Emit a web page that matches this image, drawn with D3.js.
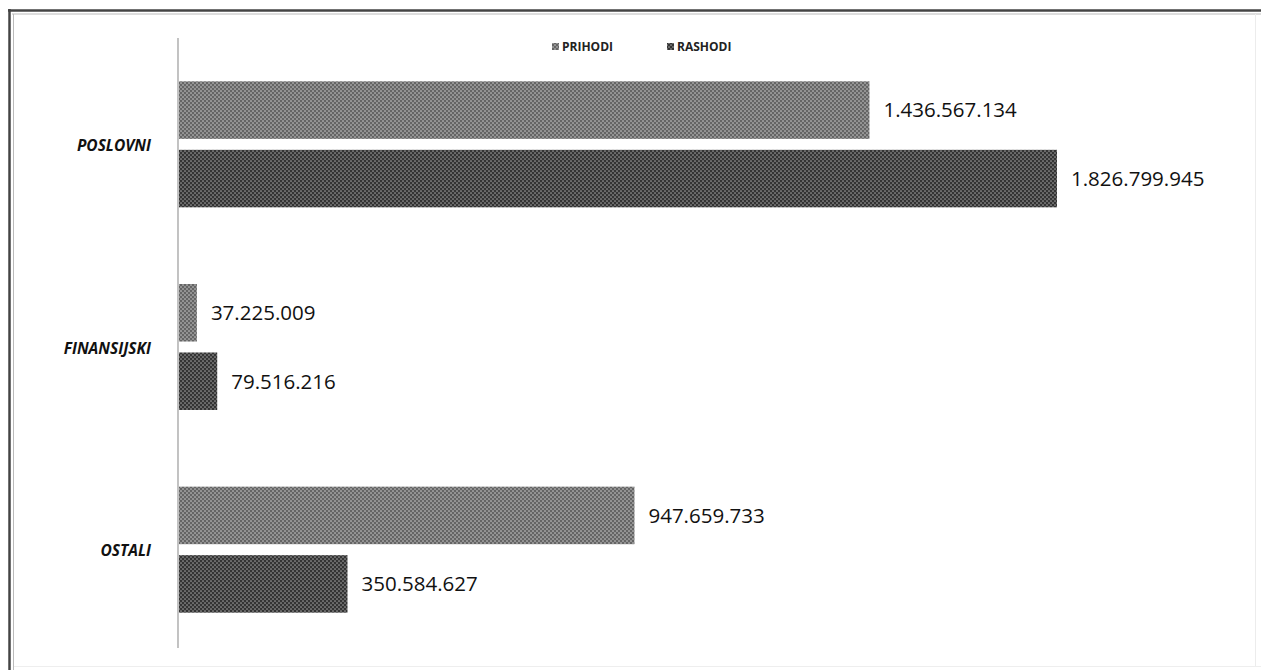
<!DOCTYPE html>
<html>
<head>
<meta charset="utf-8">
<script src="https://cdn.jsdelivr.net/npm/d3@7"></script>
<style>
  html, body { margin: 0; padding: 0; background: #fff; }
  svg { display: block; }
</style>
</head>
<body>
<svg id="chart" width="1261" height="670"></svg>
<script>
const categories = ["POSLOVNI", "FINANSIJSKI", "OSTALI"];
const seriesNames = ["PRIHODI", "RASHODI"];
const prihodi = [1436567134, 37225009, 947659733];
const rashodi = [1826799945, 79516216, 350584627];
const valueLabels = {
  PRIHODI: ["1.436.567.134", "37.225.009", "947.659.733"],
  RASHODI: ["1.826.799.945", "79.516.216", "350.584.627"]
};

const seriesValues = { PRIHODI: prihodi, RASHODI: rashodi };
const colors = { PRIHODI: "#858585", RASHODI: "#505050" };
const dotColors = { PRIHODI: "#555", RASHODI: "#262626" };

const svg = d3.select("#chart");
const W = 1261, H = 670;

// patterns (halftone look)
const defs = svg.append("defs");
seriesNames.forEach(s => {
  const p = defs.append("pattern")
    .attr("id", "pat-" + s)
    .attr("width", 4).attr("height", 4)
    .attr("patternUnits", "userSpaceOnUse");
  p.append("rect").attr("width", 4).attr("height", 4).attr("fill", colors[s]);
  p.append("circle").attr("cx", 1).attr("cy", 1).attr("r", 0.9).attr("fill", dotColors[s]);
  p.append("circle").attr("cx", 3).attr("cy", 3).attr("r", 0.9).attr("fill", dotColors[s]);
  p.append("circle").attr("cx", 3).attr("cy", 1).attr("r", 0.5).attr("fill", "#d0d0d0");
  p.append("circle").attr("cx", 1).attr("cy", 3).attr("r", 0.5).attr("fill", "#d0d0d0");
});

// frame
svg.append("line").attr("x1", 8).attr("x2", W).attr("y1", 10.5).attr("y2", 10.5)
  .attr("stroke", "#444").attr("stroke-width", 2.5);
svg.append("line").attr("x1", 12).attr("x2", W).attr("y1", 14).attr("y2", 14)
  .attr("stroke", "#bbb").attr("stroke-width", 1);
svg.append("line").attr("x1", 9.5).attr("x2", 9.5).attr("y1", 9).attr("y2", H)
  .attr("stroke", "#444").attr("stroke-width", 2.5);
svg.append("line").attr("x1", 13.5).attr("x2", 13.5).attr("y1", 14).attr("y2", H)
  .attr("stroke", "#bbb").attr("stroke-width", 1);
svg.append("line").attr("x1", 14).attr("x2", W).attr("y1", 666.5).attr("y2", 666.5)
  .attr("stroke", "#eee").attr("stroke-width", 1);
svg.append("line").attr("x1", 1255.5).attr("x2", 1255.5).attr("y1", 14).attr("y2", 666)
  .attr("stroke", "#ececec").attr("stroke-width", 1);

// scales
const x0 = 179;
const x = d3.scaleLinear().domain([0, 1826799945]).range([x0, 1057]);
const y = d3.scaleBand().domain(categories).range([43, 651]).paddingInner(0).paddingOuter(0);
const groupH = 126;
const ys = d3.scaleBand().domain(seriesNames).range([0, groupH]).paddingInner(0.16);
const groupOffset = (y.bandwidth() - groupH) / 2;

// axis line
svg.append("line").attr("x1", x0 - 1).attr("x2", x0 - 1).attr("y1", 38).attr("y2", 648)
  .attr("stroke", "#9a9a9a").attr("stroke-width", 1.2);

// bars
const g = svg.append("g");
categories.forEach((c, i) => {
  const gy = y(c) + groupOffset;
  seriesNames.forEach(s => {
    const v = seriesValues[s][i];
    g.append("rect")
      .attr("x", x(0))
      .attr("y", gy + ys(s))
      .attr("width", x(v) - x(0))
      .attr("height", ys.bandwidth())
      .attr("fill", "url(#pat-" + s + ")");
    g.append("text")
      .attr("x", x(v) + 14)
      .attr("y", gy + ys(s) + ys.bandwidth() / 2)
      .attr("dy", "0.36em")
      .attr("font-family", "'Open Sans', 'Noto Sans', sans-serif")
      .attr("font-size", 20.5)
      .attr("fill", "#111")
      .text(valueLabels[s][i]);
  });
  svg.append("text")
    .attr("x", 151)
    .attr("y", y(c) + y.bandwidth() / 2 + 1)
    .attr("dy", "0.36em")
    .attr("text-anchor", "end")
    .attr("font-family", "'Open Sans', 'Noto Sans', sans-serif")
    .attr("font-size", 15.5)
    .attr("font-weight", "bold")
    .attr("font-style", "italic")
    .attr("fill", "#111")
    .text(c);
});

// legend
const legendX = { PRIHODI: 552, RASHODI: 667 };
seriesNames.forEach(s => {
  svg.append("rect")
    .attr("x", legendX[s]).attr("y", 43)
    .attr("width", 7).attr("height", 7)
    .attr("fill", "url(#pat-" + s + ")");
  svg.append("text")
    .attr("x", legendX[s] + 10).attr("y", 47)
    .attr("dy", "0.36em")
    .attr("font-family", "'Open Sans', 'Noto Sans', sans-serif")
    .attr("font-size", 12)
    .attr("font-weight", "bold")
    .attr("fill", "#222")
    .text(s);
});
</script>
</body>
</html>
